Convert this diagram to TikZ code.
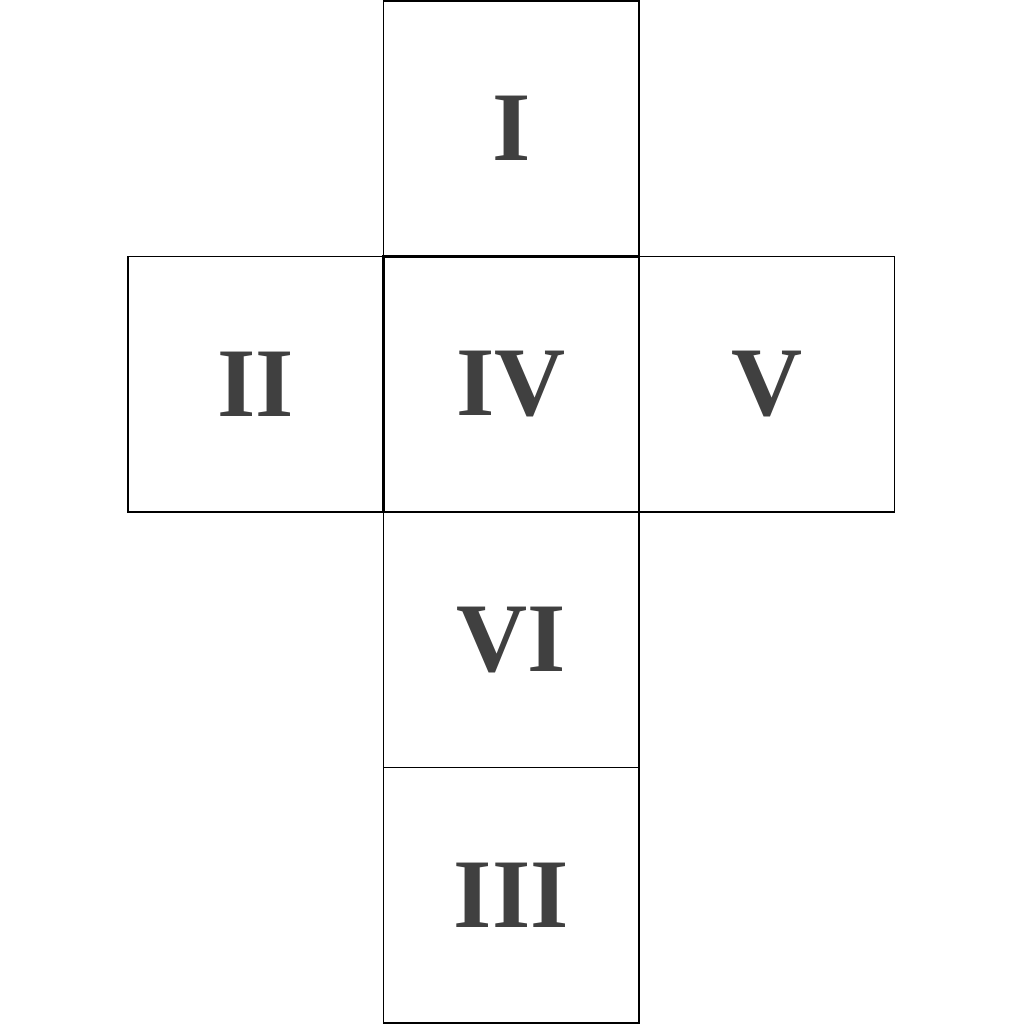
\documentclass[tikz,border=0pt]{standalone}
\usepackage{fontspec}
\setmainfont{Liberation Serif}
\usetikzlibrary{positioning}
\definecolor{numgray}{HTML}{404040}
\tikzset{face/.style={draw=black,line width=0.3pt,minimum width=2.555cm,minimum height=2.555cm,outer sep=0pt,inner sep=0pt,font=\fontsize{28}{28}\selectfont\bfseries,text=numgray}}

\begin{document}
\begin{tikzpicture}
\useasboundingbox (0,0) rectangle (10.24,-10.24);
\node[face,line width=0.6pt] (IV) at (5.1125,-3.8425) {IV};
\node[face,above=0pt of IV] (I) {I};
\node[face,left=0pt of IV] (II) {II};
\node[face,right=0pt of IV] (V) {V};
\node[face,below=0pt of IV] (VI) {VI};
\node[face,below=0pt of VI] (III) {III};

\end{tikzpicture}
\end{document}
